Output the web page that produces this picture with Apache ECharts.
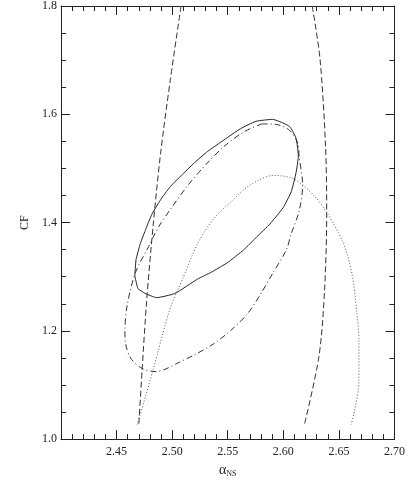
<!DOCTYPE html>
<html>
<head>
<meta charset="utf-8">
<script src="https://cdn.jsdelivr.net/npm/echarts@6/dist/echarts.min.js"></script>
<style>
  html, body { margin: 0; padding: 0; background: #fff; }
  #chart { width: 408px; height: 483px; }
</style>
</head>
<body>
<div id="chart"></div>
<script>
// contour curves as [alpha_NS, CF]
var solidCurve = [
  [2.4664, 1.3019], [2.4675, 1.3316], [2.4714, 1.3615], [2.4758, 1.3853], [2.4817, 1.4152],
  [2.4905, 1.4451], [2.4994, 1.4689], [2.5082, 1.4868], [2.5201, 1.5106], [2.5319, 1.5315],
  [2.5466, 1.5525], [2.5613, 1.5732], [2.5755, 1.5870], [2.5903, 1.5906], [2.6056, 1.5775],
  [2.6115, 1.5553], [2.6135, 1.5226], [2.6115, 1.4927], [2.6071, 1.4569], [2.5997, 1.4272],
  [2.5879, 1.3973], [2.5761, 1.3735], [2.5643, 1.3495], [2.5496, 1.3257], [2.5348, 1.3078],
  [2.5230, 1.2958], [2.5024, 1.2690], [2.4861, 1.2613], [2.4758, 1.2690],
  [2.4693, 1.2779], [2.4664, 1.3019]
]
var dashDotCurve = [
  [2.5805, 1.5822], [2.5938, 1.5811], [2.6056, 1.5704], [2.6130, 1.5464], [2.6142, 1.5226],
  [2.6174, 1.4689], [2.6142, 1.4211], [2.6071, 1.3794], [2.6027, 1.3495], [2.5909, 1.3078],
  [2.5790, 1.2661], [2.5673, 1.2303], [2.5525, 1.2004], [2.5378, 1.1766], [2.5201, 1.1557],
  [2.5053, 1.1409], [2.4935, 1.1289], [2.4847, 1.1248], [2.4728, 1.1306], [2.4626, 1.1498],
  [2.4581, 1.1766], [2.4575, 1.2004], [2.4596, 1.2482], [2.4670, 1.3078], [2.4788, 1.3556],
  [2.4876, 1.3914], [2.4994, 1.4272], [2.5142, 1.4689], [2.5319, 1.5106], [2.5466, 1.5405],
  [2.5643, 1.5673], [2.5805, 1.5822]
]
var dashedLeft = [
  [2.508, 1.800], [2.4985, 1.666], [2.4896, 1.528], [2.483, 1.397],
  [2.477, 1.254], [2.473, 1.129], [2.470, 1.027]
]
var dashedRight = [
  [2.626, 1.800], [2.633, 1.702], [2.638, 1.540], [2.639, 1.415],
  [2.637, 1.272], [2.632, 1.152], [2.619, 1.027]
]
var dottedCurve = [
  [2.4686, 1.027], [2.483, 1.129], [2.498, 1.240], [2.510, 1.299], [2.523, 1.3615],
  [2.537, 1.406], [2.553, 1.4385], [2.570, 1.469], [2.591, 1.487], [2.609, 1.481],
  [2.627, 1.451], [2.639, 1.419], [2.654, 1.3615], [2.662, 1.3025], [2.666, 1.236],
  [2.668, 1.183], [2.668, 1.106], [2.664, 1.052], [2.661, 1.027]
]

var xMin = 2.40, xMax = 2.70, xStep = 0.05
var yMin = 1.0, yMax = 1.8, yStep = 0.2

var myChart = echarts.init(document.getElementById('chart'))

var serif = 'Liberation Serif, DejaVu Serif, serif'
var ink = '#222'

function xAxisOf(pos, labels) {
  return {
    type: 'value', position: pos, min: xMin, max: xMax, interval: xStep,
    axisLine: { show: true, lineStyle: { color: ink, width: 1 } },
    axisTick: { show: true, inside: true, length: 9, lineStyle: { color: ink } },
    minorTick: { show: true, splitNumber: 5, length: 5, lineStyle: { color: ink } },
    splitLine: { show: false },
    axisLabel: {
      show: labels, margin: 7, color: ink, fontFamily: serif, fontSize: 12,
      formatter: function (v) { return Math.abs(v - xMin) < 1e-6 ? '' : v.toFixed(2) }
    }
  }
}
function yAxisOf(pos, labels) {
  return {
    type: 'value', position: pos, min: yMin, max: yMax, interval: yStep,
    axisLine: { show: true, lineStyle: { color: ink, width: 1 } },
    axisTick: { show: true, inside: true, length: 9, lineStyle: { color: ink } },
    minorTick: { show: true, splitNumber: 4, length: 5, lineStyle: { color: ink } },
    splitLine: { show: false },
    axisLabel: {
      show: labels, margin: 4, color: ink, fontFamily: serif, fontSize: 12,
      formatter: function (v) { return v.toFixed(1) }
    }
  }
}

function curve(data, type, color, smooth) {
  return {
    type: 'line', data: data, showSymbol: false, smooth: smooth,
    xAxisIndex: 0, yAxisIndex: 0,
    lineStyle: { color: color, width: 1, type: type }
  }
}

var xBottom = xAxisOf('bottom', true)
xBottom.name = '{a|α}{s|NS}'
xBottom.nameLocation = 'middle'
xBottom.nameGap = 18
xBottom.nameTextStyle = {
  rich: {
    a: { fontFamily: serif, fontSize: 14, color: ink, lineHeight: 16 },
    s: { fontFamily: serif, fontSize: 8, color: ink, lineHeight: 8, verticalAlign: 'bottom' }
  }
}
var yLeft = yAxisOf('left', true)
yLeft.name = 'CF'
yLeft.nameLocation = 'middle'
yLeft.nameGap = 24
yLeft.nameTextStyle = { fontFamily: serif, fontSize: 12, color: ink }

let options = {
  animation: false,
  grid: { left: 61, right: 8, top: 5, bottom: 31 },
  xAxis: [xBottom, xAxisOf('top', false)],
  yAxis: [yLeft, yAxisOf('right', false)],
  series: [
    curve(dottedCurve, [1, 2], '#555', 0.3),
    curve(dashedLeft, [6, 3], '#333', 0.3),
    curve(dashedRight, [6, 3], '#333', 0.3),
    curve(dashDotCurve, [6, 3, 1, 3], '#333', 0.3),
    curve(solidCurve, 'solid', '#222', 0.15)
  ]
}
myChart.setOption(options)
</script>
</body>
</html>
